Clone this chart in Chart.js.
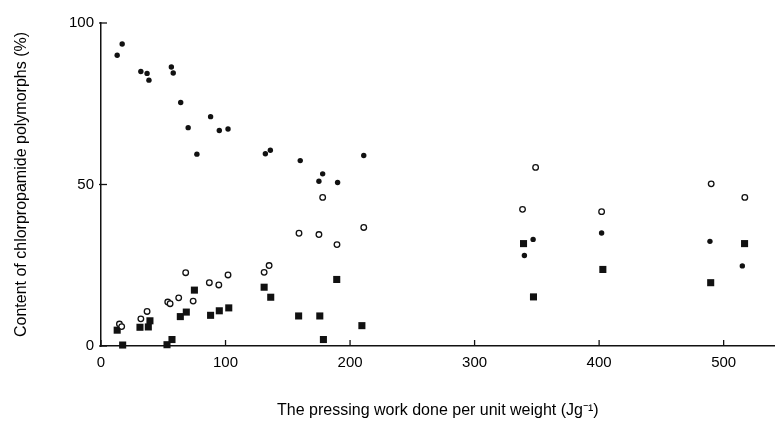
<!DOCTYPE html>
<html>
<head>
<meta charset="utf-8">
<title>Chlorpropamide polymorphs vs pressing work</title>
<script src="https://cdn.jsdelivr.net/npm/chart.js@4.4.1/dist/chart.umd.min.js"></script>
<style>
    html, body { margin: 0; padding: 0; background: #fff; }
    #chart { display: block; }
</style>
</head>
<body>
<canvas id="chart" width="780" height="425"></canvas>
<script>
// Dados (trabalho de compressão em J/g, conteúdo em %)
const dotWork = [13, 17, 32, 37, 38.5, 56.5, 58, 64, 70, 77, 88, 95, 102, 132, 136, 160, 175, 178, 190, 211, 340, 347, 402, 489, 515];
const dotContent = [90, 93.5, 85, 84.4, 82.3, 86.4, 84.5, 75.4, 67.6, 59.4, 71, 66.7, 67.2, 59.5, 60.6, 57.4, 51, 53.3, 50.6, 59, 28, 33, 35, 32.4, 24.8];

const ringWork = [14.8, 16.6, 32, 37, 53.6, 55.5, 62.4, 68, 74, 87, 94.6, 102, 131, 135, 159, 175, 178, 189.5, 211, 338.5, 349, 402, 490, 517];
const ringContent = [6.8, 6, 8.4, 10.7, 13.6, 13.1, 14.9, 22.7, 13.9, 19.6, 18.9, 22, 22.8, 24.9, 34.9, 34.5, 46, 31.4, 36.7, 42.3, 55.3, 41.6, 50.2, 46];

const squareWork = [13, 17.4, 31.3, 38, 39.3, 53, 57, 63.7, 68.5, 75, 88, 95, 102.6, 131, 136.3, 158.7, 175.7, 178.6, 189.3, 209.5, 339.3, 347.3, 403, 489.6, 516.8];
const squareContent = [4.9, 0.3, 5.8, 5.9, 7.8, 0.4, 2, 9.1, 10.5, 17.3, 9.5, 10.9, 11.8, 18.2, 15.1, 9.3, 9.3, 2, 20.6, 6.3, 31.7, 15.2, 23.7, 19.6, 31.7];

const xTickStep = 100;
const yTickStep = 50;

const ink = '#111';
const textInk = '#000';
const fontFamily = '"Liberation Sans", Arial, Helvetica, sans-serif';

function toPoints(xs, ys) {
    return xs.map((x, i) => ({ x: x, y: ys[i] }));
}

// Marcas de escala voltadas para dentro, como na figura original
const inwardTicks = {
    id: 'inwardTicks',
    afterDraw(chart) {
        const ctx = chart.ctx;
        const xScale = chart.scales.x;
        const yScale = chart.scales.y;
        const area = chart.chartArea;
        ctx.save();
        ctx.strokeStyle = ink;
        ctx.lineWidth = 1.3;
        xScale.ticks.forEach(t => {
            const px = xScale.getPixelForValue(t.value);
            ctx.beginPath();
            ctx.moveTo(px, area.bottom);
            ctx.lineTo(px, area.bottom - 6);
            ctx.stroke();
        });
        yScale.ticks.forEach(t => {
            const py = yScale.getPixelForValue(t.value);
            ctx.beginPath();
            ctx.moveTo(area.left - 2, py);
            ctx.lineTo(area.left + 6, py);
            ctx.stroke();
        });
        ctx.restore();
    }
};

const chart = new Chart(document.getElementById('chart'), {
    type: 'scatter',
    data: {
        datasets: [
            {
                label: 'filled circles',
                data: toPoints(dotWork, dotContent),
                pointStyle: 'circle',
                pointRadius: 2.7,
                backgroundColor: ink,
                borderColor: ink,
                borderWidth: 0,
                clip: false
            },
            {
                label: 'open circles',
                data: toPoints(ringWork, ringContent),
                pointStyle: 'circle',
                pointRadius: 2.8,
                backgroundColor: '#fff',
                borderColor: ink,
                borderWidth: 1.3,
                clip: false
            },
            {
                label: 'squares',
                data: toPoints(squareWork, squareContent),
                pointStyle: 'rect',
                pointRadius: 5,
                backgroundColor: ink,
                borderColor: ink,
                borderWidth: 0,
                clip: false
            }
        ]
    },
    options: {
        responsive: false,
        animation: false,
        devicePixelRatio: 1,
        layout: {
            padding: { top: 23, right: 0, bottom: 0, left: 0 }
        },
        plugins: {
            legend: { display: false },
            tooltip: { enabled: false }
        },
        scales: {
            x: {
                type: 'linear',
                min: 0,
                max: 541,
                afterFit(scale) { scale.height = 79; },
                grid: { display: false, drawTicks: false },
                border: { display: true, color: ink, width: 1.5 },
                ticks: {
                    stepSize: xTickStep,
                    includeBounds: false,
                    padding: 8,
                    color: textInk,
                    font: { family: fontFamily, size: 15 }
                },
                title: {
                    display: true,
                    text: 'The pressing work done per unit weight (Jg⁻¹)',
                    color: textInk,
                    font: { family: fontFamily, size: 16 },
                    padding: { top: 4, bottom: 5 }
                }
            },
            y: {
                type: 'linear',
                min: 0,
                max: 100,
                afterFit(scale) { scale.width = 101; },
                grid: { display: false, drawTicks: false },
                border: { display: true, color: ink, width: 1.5 },
                ticks: {
                    stepSize: yTickStep,
                    padding: 7,
                    color: textInk,
                    font: { family: fontFamily, size: 15 }
                },
                title: {
                    display: true,
                    text: 'Content of chlorpropamide polymorphs (%)',
                    color: textInk,
                    font: { family: fontFamily, size: 16 },
                    padding: { top: 12, bottom: 4 }
                }
            }
        }
    },
    plugins: [inwardTicks]
});
</script>
</body>
</html>
